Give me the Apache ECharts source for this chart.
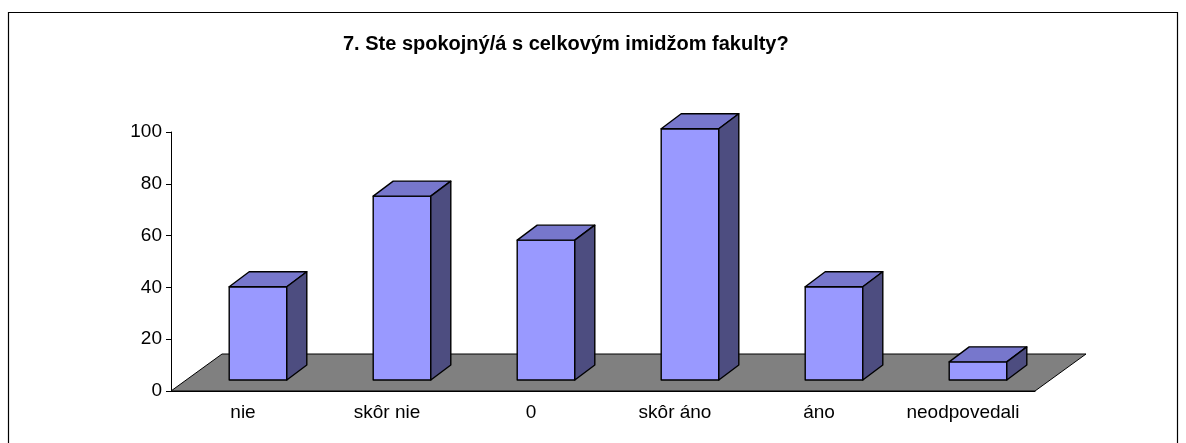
<!DOCTYPE html>
<html>
<head>
<meta charset="utf-8">
<script src="https://cdn.jsdelivr.net/npm/echarts@6/dist/echarts.min.js"></script>
<style>
  html, body { margin: 0; padding: 0; background: #fff; }
  #chart { width: 1186px; height: 443px; }
</style>
</head>
<body>
<div id="chart"></div>
<script>
const titleText = "7. Ste spokojný/á s celkovým imidžom fakulty?";
const categories = ["nie", "skôr nie", "0", "skôr áno", "áno", "neodpovedali"];
const counts = [36, 71, 54, 97, 36, 7];
const yTicks = [0, 20, 40, 60, 80, 100];

const FONT = "'Liberation Sans', Arial, sans-serif";
// oblique projection offsets (px) for the 3D look
const FLOOR_DEPTH = [51, -37];
const BAR_SHIFT = [15, -11];
const BAR_DEPTH = [20, -15];

const chart = echarts.init(document.getElementById("chart"));

function renderFloor(params, api) {
  const band = api.size([1, 0])[0];
  const first = api.coord([0, 0]);
  const last = api.coord([categories.length - 1, 0]);
  const x0 = first[0] - band / 2;
  const x1 = last[0] + band / 2;
  const y = first[1];
  return {
    type: "polygon",
    shape: {
      points: [
        [x0, y], [x1, y],
        [x1 + FLOOR_DEPTH[0], y + FLOOR_DEPTH[1]],
        [x0 + FLOOR_DEPTH[0], y + FLOOR_DEPTH[1]],
      ],
    },
    style: { fill: "#808080", stroke: "#000", lineWidth: 1 },
  };
}

function renderBar(params, api) {
  const i = api.value(0);
  const base = api.coord([i, 0]);
  const top = api.coord([i, api.value(1)]);
  const w = api.size([1, 0])[0] * 0.4;
  const x0 = base[0] + BAR_SHIFT[0] - w / 2;
  const x1 = x0 + w;
  const yb = base[1] + BAR_SHIFT[1];
  const yt = top[1] + BAR_SHIFT[1];
  const [dx, dy] = BAR_DEPTH;
  const edge = { stroke: "#000", lineWidth: 1.4, lineJoin: "round" };
  return {
    type: "group",
    children: [
      {
        type: "polygon",
        shape: { points: [[x0, yb], [x1, yb], [x1, yt], [x0, yt]] },
        style: Object.assign({ fill: "#9999ff" }, edge),
      },
      {
        type: "polygon",
        shape: { points: [[x0, yt], [x1, yt], [x1 + dx, yt + dy], [x0 + dx, yt + dy]] },
        style: Object.assign({ fill: "#7777cc" }, edge),
      },
      {
        type: "polygon",
        shape: { points: [[x1, yb], [x1 + dx, yb + dy], [x1 + dx, yt + dy], [x1, yt]] },
        style: Object.assign({ fill: "#4d4d80" }, edge),
      },
    ],
  };
}

chart.setOption({
  animation: false,
  title: {
    text: titleText,
    left: 338,
    top: 29,
    textStyle: { fontFamily: FONT, fontSize: 20, fontWeight: "bold", color: "#000" },
  },
  grid: { left: 171, right: 151, top: 132, bottom: 52, containLabel: false },
  xAxis: {
    type: "category",
    data: categories,
    axisLine: { lineStyle: { color: "#000", width: 1 } },
    axisTick: { length: 5, lineStyle: { color: "#000" } },
    axisLabel: { interval: 0, fontFamily: FONT, fontSize: 19, color: "#000", margin: 12 },
  },
  yAxis: {
    type: "value",
    min: yTicks[0],
    max: yTicks[yTicks.length - 1],
    interval: yTicks[1] - yTicks[0],
    axisLine: { show: true, lineStyle: { color: "#000", width: 1 } },
    axisTick: { show: true, length: 5, lineStyle: { color: "#000" } },
    axisLabel: { fontFamily: FONT, fontSize: 19, color: "#000", margin: 9 },
    splitLine: { show: false },
  },
  series: [
    {
      type: "custom",
      name: "floor",
      renderItem: renderFloor,
      data: [[0, 0]],
      encode: { x: 0, y: 1 },
      clip: false,
      silent: true,
      z: 1,
    },
    {
      type: "custom",
      name: "bars",
      renderItem: renderBar,
      data: categories.map((c, i) => [i, counts[i]]),
      encode: { x: 0, y: 1 },
      clip: false,
      z: 3,
    },
  ],
  graphic: [
    {
      type: "polyline",
      shape: { points: [[8.5, 443], [8.5, 12.5], [1177.5, 12.5], [1177.5, 443]] },
      style: { stroke: "#000", lineWidth: 1.2, fill: null },
      silent: true,
    },
  ],
});
</script>
</body>
</html>
